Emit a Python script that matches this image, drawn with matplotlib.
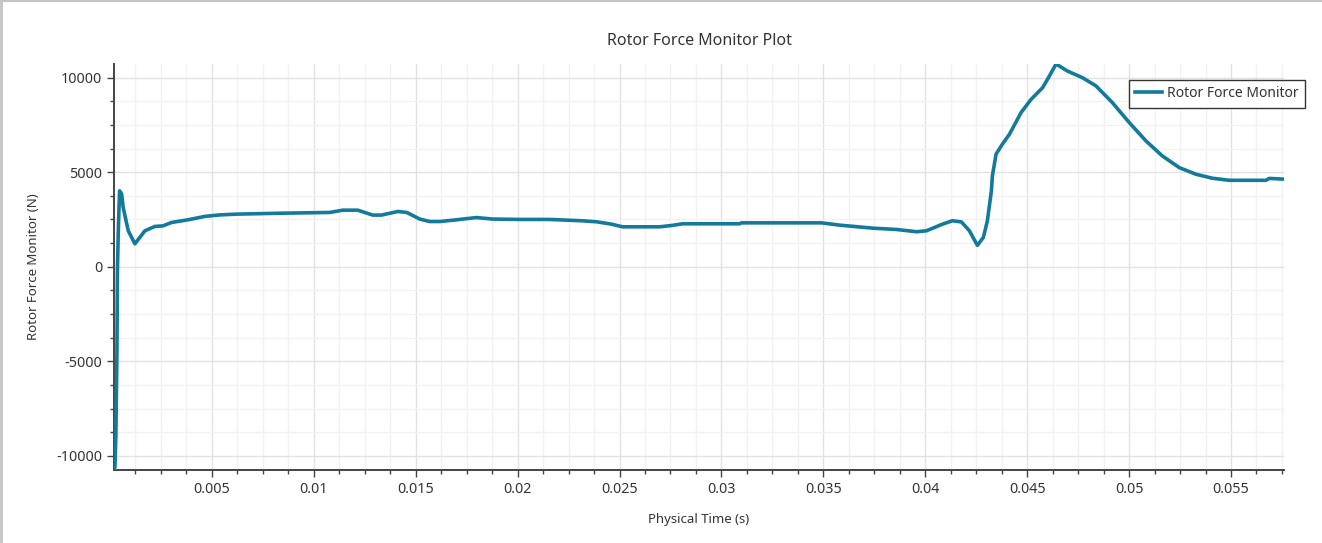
import numpy as np
import matplotlib
matplotlib.use("Agg")
import matplotlib.pyplot as plt
from matplotlib.ticker import MultipleLocator, AutoMinorLocator
from matplotlib.lines import Line2D

plt.rcParams['font.family'] = ['Noto Sans', 'DejaVu Sans']
plt.rcParams['axes.unicode_minus'] = False

# physical time (s) and rotor force (N)
time = [0.00020, 0.000245, 0.000294, 0.000343, 0.000368, 0.000407, 0.000441,
        0.000476, 0.000574, 0.000652, 0.00090, 0.001226, 0.001716, 0.002206,
        0.002599, 0.003025, 0.003824, 0.004658, 0.005393, 0.006212, 0.008418,
        0.010787, 0.011424, 0.012159, 0.012895, 0.013321, 0.014121, 0.014562,
        0.015199, 0.015690, 0.016180, 0.016999, 0.017979, 0.018778, 0.020102,
        0.021573, 0.023142, 0.023878, 0.024564, 0.025152, 0.026967, 0.027555,
        0.028094, 0.030889, 0.030987, 0.033340, 0.034909, 0.035792, 0.037410,
        0.038587, 0.039568, 0.040058, 0.040843, 0.041333, 0.041774, 0.042166,
        0.042558, 0.042852, 0.043048, 0.043146, 0.043244, 0.043293, 0.043474,
        0.043783, 0.044127, 0.044700, 0.045191, 0.045760, 0.046088, 0.046417,
        0.046971, 0.047706, 0.048378, 0.049177, 0.050011, 0.050830, 0.051629,
        0.052463, 0.053281, 0.054081, 0.054914, 0.056714, 0.056876, 0.057600]
force = [-10750, -10600, -8800, -4600, -200, 1740, 2960,
         4010, 3850, 3120, 1900, 1210, 1900, 2130,
         2160, 2340, 2480, 2660, 2740, 2780, 2830,
         2870, 2990, 2990, 2730, 2730, 2920, 2870,
         2520, 2390, 2390, 2480, 2600, 2520, 2500,
         2500, 2430, 2375, 2260, 2110, 2110, 2180,
         2270, 2270, 2320, 2320, 2320, 2200, 2040,
         1970, 1850, 1900, 2250, 2430, 2370, 1900,
         1130, 1550, 2430, 3220, 4010, 4800, 5950,
         6480, 7000, 8150, 8850, 9470, 10080, 10720,
         10350, 10000, 9560, 8680, 7620, 6650, 5860,
         5240, 4890, 4680, 4570, 4570, 4670, 4630]

series_name = "Rotor Force Monitor"
line_color = "#137a9b"
text_color = "#333333"

fig = plt.figure(figsize=(13.22, 5.43), dpi=100)
ax = fig.add_axes([114/1322, 1-470/543, (1284-114)/1322, (470-64)/543])

ax.plot(time, force, color=line_color, lw=2.6, label=series_name,
        solid_joinstyle='round', zorder=3)

ax.set_xlim(min(time), max(time))
ax.set_ylim(min(force), max(force))

ax.xaxis.set_major_locator(MultipleLocator(0.005))
ax.xaxis.set_minor_locator(AutoMinorLocator(4))
ax.yaxis.set_major_locator(MultipleLocator(5000))
ax.yaxis.set_minor_locator(AutoMinorLocator(4))
ax.xaxis.set_major_formatter(plt.FuncFormatter(lambda v, p: ('%g' % round(v, 6))))

ax.grid(which='major', color='#e2e2e2', lw=1)
ax.grid(which='minor', color='#f2f2f2', lw=1)
ax.set_axisbelow(True)

for s in ['top', 'right']:
    ax.spines[s].set_visible(False)
for s in ['left', 'bottom']:
    ax.spines[s].set_color('#444444')
    ax.spines[s].set_linewidth(1.4)

ax.tick_params(which='major', direction='out', length=5, width=1,
               color='#444444', labelcolor=text_color, labelsize=10.3)
ax.tick_params(which='minor', direction='out', length=3, width=1, color='#444444')

ax.set_title("Rotor Force Monitor Plot", fontsize=11.5, color=text_color, pad=14)
ax.set_xlabel("Physical Time (s)", fontsize=9.5, color=text_color, labelpad=12)
ax.set_ylabel("Rotor Force Monitor (N)", fontsize=9.5, color=text_color, labelpad=12)

leg = ax.legend(loc='upper left', bbox_to_anchor=(1129/1322, 1-80/543),
                bbox_transform=fig.transFigure, fancybox=False, framealpha=1,
                edgecolor='#333333', fontsize=10, handlelength=1.9,
                handletextpad=0.4, borderpad=0.45, borderaxespad=0)
leg.get_frame().set_linewidth(1.0)
for t in leg.get_texts():
    t.set_color(text_color)

# window frame, left and top edges
fig.add_artist(Line2D([0.0008, 0.0008], [0, 1], transform=fig.transFigure,
                      color='#c4c4c4', lw=2))
fig.add_artist(Line2D([0, 1], [0.999, 0.999], transform=fig.transFigure,
                      color='#c4c4c4', lw=1.5))

fig.savefig("out.png", dpi=100)
